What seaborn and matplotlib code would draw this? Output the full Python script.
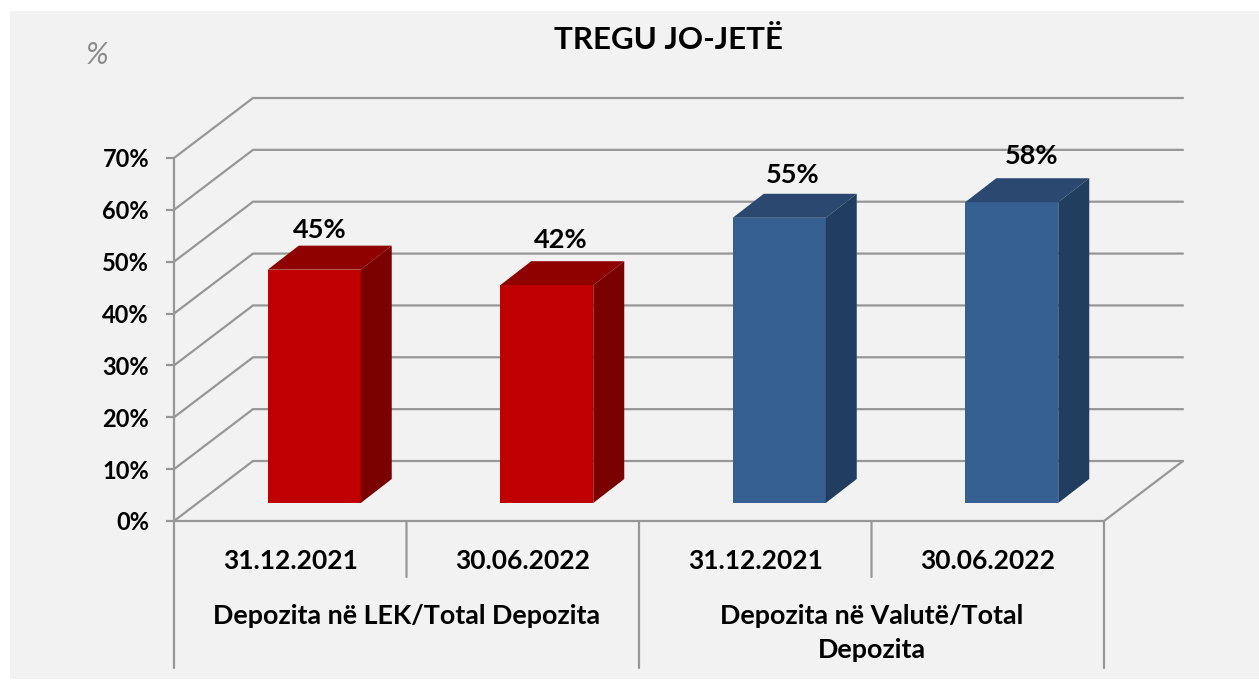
import matplotlib
matplotlib.use('Agg')
import matplotlib.pyplot as plt
from matplotlib.patches import Polygon, Rectangle
import pandas as pd
import seaborn as sns

# data
periods = ['31.12.2021', '30.06.2022', '31.12.2021', '30.06.2022']
groups = ['LEK', 'LEK', 'Valute', 'Valute']
values = [45, 42, 55, 58]
y_ticks = [0, 10, 20, 30, 40, 50, 60, 70]
group_labels = ['Depozita në LEK/Total Depozita', 'Depozita në Valutë/Total\nDepozita']

# colours: front, top, side
colors = {'LEK': ('#c00000', '#8f0000', '#7b0000'), 'Valute': ('#366092', '#2a4870', '#213d5f')}
line_color = '#979797'

W, H = 1259, 681
label_dx = [5, 14, 13, 20]  # px, value labels sit off centre in the original
label_dy = [16, 21, 19, 22]

sns.set_theme(style='white')
plt.rcParams['font.family'] = ['Lato', 'DejaVu Sans']

df = pd.DataFrame({'slot': [g + p for g, p in zip(groups, periods)], 'group': groups, 'value': values})

fig = plt.figure(figsize=(W / 100, H / 100), dpi=100, facecolor='white')
fig.patches.append(Rectangle((10 / W, 2 / H), (W - 10) / W, (H - 13) / H, transform=fig.transFigure,
                             facecolor='#f2f2f2', edgecolor='none', zorder=-5))


def axes_at(x0, x1, y_bottom, y_top):
    return fig.add_axes([x0 / W, 1 - y_bottom / H, (x1 - x0) / W, (y_bottom - y_top) / H])


# front plane of the 3D box, and the same plane moved back for the bars
ax = axes_at(174, 1104, 521, 158)
ax_bars = axes_at(198, 1128, 503, 140)
for a in (ax, ax_bars):
    a.patch.set_visible(False)
    for s in a.spines.values():
        s.set_visible(False)
ax_bars.set_zorder(2)

sns.barplot(data=df, x='slot', y='value', hue='group', dodge=False, width=0.4, saturation=1, linewidth=0,
            palette={k: v[0] for k, v in colors.items()}, legend=False, ax=ax_bars)
ax_bars.set_xlim(-0.5, 3.5)
ax_bars.set_ylim(0, 70)
ax_bars.set_xlabel('')
ax_bars.set_ylabel('')
ax_bars.set_xticks([])
ax_bars.set_yticks([])

# depth of the bars in data units
bar_dx = 31 / 232.5
bar_dy = 24 / (363 / 70)
for i, bar in enumerate(ax_bars.patches[:len(values)]):
    x0, x1 = bar.get_x(), bar.get_x() + bar.get_width()
    top = bar.get_height()
    _, c_top, c_side = colors[groups[i]]
    ax_bars.add_patch(Polygon([(x0, top), (x0 + bar_dx, top + bar_dy), (x1 + bar_dx, top + bar_dy), (x1, top)],
                              facecolor=c_top, edgecolor='none', clip_on=False))
    ax_bars.add_patch(Polygon([(x1, 0), (x1 + bar_dx, bar_dy), (x1 + bar_dx, top + bar_dy), (x1, top)],
                              facecolor=c_side, edgecolor='none', clip_on=False))
    ax_bars.annotate(f'{values[i]}%', xy=((x0 + x1) / 2, top + bar_dy), xycoords='data',
                     xytext=(label_dx[i] * 0.72, label_dy[i] * 0.72), textcoords='offset points',
                     ha='center', va='center', fontsize=19.5, fontweight='bold', color='black', annotation_clip=False)

# walls
ax.set_xlim(-0.5, 3.5)
ax.set_ylim(0, 70)
wall_dx = 79 / 232.5
wall_dy = 60 / (363 / 70)
lw = 1.6
for t in y_ticks:
    ax.plot([-0.5, -0.5 + wall_dx, 3.5 + wall_dx], [t, t + wall_dy, t + wall_dy], color=line_color, lw=lw,
            clip_on=False, solid_joinstyle='miter')
ax.plot([-0.5, 3.5, 3.5 + wall_dx], [0, 0, wall_dy], color=line_color, lw=lw, clip_on=False)
ax.plot([-0.5, -0.5], [0, 70], color=line_color, lw=lw, clip_on=False)

# multi level category axis
tr = ax.get_xaxis_transform()
for x, low in zip([-0.5, 0.5, 1.5, 2.5, 3.5], [-147, -56, -147, -56, -147]):
    ax.annotate('', xy=(x, 0), xycoords=tr, xytext=(0, low * 0.72), textcoords='offset points',
                arrowprops=dict(arrowstyle='-', color=line_color, lw=lw, shrinkA=0, shrinkB=0))

ax.set_xticks(range(len(periods)))
ax.set_xticklabels(periods, fontsize=19, fontweight='bold', color='black')
ax.tick_params(axis='x', length=0, pad=20)
ax.set_yticks(y_ticks)
ax.set_yticklabels([f'{t}%' for t in y_ticks], fontsize=17, fontweight='bold', color='black', va='center_baseline')
ax.tick_params(axis='y', length=6, width=lw, color=line_color, pad=12, left=True)

for x, label in zip([0.5, 2.5], group_labels):
    ax.annotate(label, xy=(x, 0), xycoords=tr, xytext=(0, -83 * 0.72), textcoords='offset points',
                ha='center', va='top', fontsize=19.4, fontweight='bold', color='black', linespacing=1.5)

fig.text(669 / W, 1 - 40 / H, 'TREGU JO-JETË', ha='center', va='center', fontsize=22.5, fontweight='bold', color='black')
fig.text(97 / W, 1 - 55 / H, '%', ha='center', va='center', fontsize=22, fontstyle='italic', color='#8c8c8c')

fig.savefig('out.png', dpi=100, facecolor=fig.get_facecolor())
